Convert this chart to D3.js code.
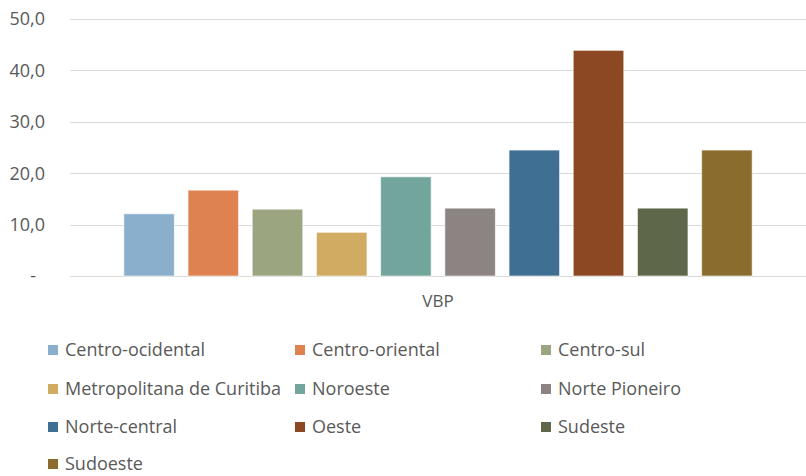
<!DOCTYPE html>
<html>
<head>
<meta charset="utf-8">
<script src="https://cdn.jsdelivr.net/npm/d3@7"></script>
<style>
  body { margin: 0; background: #fff; }
  text { font-family: "Open Sans", sans-serif; fill: #595959; }
</style>
</head>
<body>
<div class="canvas"></div>
<script>
// data
const category = 'VBP'
const regions = ['Centro-ocidental', 'Centro-oriental', 'Centro-sul', 'Metropolitana de Curitiba',
    'Noroeste', 'Norte Pioneiro', 'Norte-central', 'Oeste', 'Sudeste', 'Sudoeste']
const values = [12.1, 16.7, 13.0, 8.5, 19.3, 13.2, 24.5, 43.9, 13.2, 24.5]
const colours = ['#8AAFCD', '#DE8250', '#9BA57F', '#D2AB62', '#72A59B',
    '#8B8483', '#3F7094', '#8B4823', '#5E6749', '#8A6D2E']
const yTicks = [0, 10, 20, 30, 40, 50]

const dims = {width: 806, height: 476}
const plot = {left: 70, right: 806, top: 19, bottom: 276}

const svg = d3.select('.canvas')
    .append('svg')
    .attr('width', dims.width)
    .attr('height', dims.height)

const y = d3.scaleLinear()
    .domain([0, 50])
    .range([plot.bottom, plot.top])

const x0 = d3.scaleBand()
    .domain([category])
    .range([plot.left, plot.right])
    .paddingOuter(0.0732)

const x1 = d3.scaleBand()
    .domain(regions)
    .range([0, x0.bandwidth()])
    .paddingInner(0.213)
    .paddingOuter(0.1065)

const colour = d3.scaleOrdinal().domain(regions).range(colours)

//gridlines
svg.append('g')
    .selectAll('line')
    .data(yTicks)
    .enter().append('line')
    .attr('x1', plot.left)
    .attr('x2', plot.right)
    .attr('y1', d => Math.round(y(d)) + 0.5)
    .attr('y2', d => Math.round(y(d)) + 0.5)
    .attr('stroke', '#d9d9d9')
    .attr('stroke-width', 1)

//y labels
const fmt = d => d === 0 ? '-' : d3.format('.1f')(d).replace('.', ',')
svg.append('g')
    .selectAll('text')
    .data(yTicks)
    .enter().append('text')
    .attr('x', d => d === 0 ? 36 : 45)
    .attr('y', d => y(d))
    .attr('dy', '0.35em')
    .attr('text-anchor', 'end')
    .attr('font-size', 18)
    .text(fmt)

//bars
const group = svg.append('g')
    .attr('transform', `translate(${x0(category)}, 0)`)

group.selectAll('rect')
    .data(regions.map((r, i) => ({name: r, value: values[i]})))
    .enter().append('rect')
    .attr('x', d => x1(d.name))
    .attr('y', d => y(d.value))
    .attr('width', x1.bandwidth())
    .attr('height', d => y(0) - y(d.value))
    .attr('fill', d => colour(d.name))
    .attr('stroke', '#fff')
    .attr('stroke-opacity', 0.6)
    .attr('stroke-width', 1)

//category label
svg.append('text')
    .attr('x', x0(category) + x0.bandwidth() / 2)
    .attr('y', 301)
    .attr('dy', '0.35em')
    .attr('text-anchor', 'middle')
    .attr('font-size', 17)
    .text(category)

//legend, 3 columns
const legendCols = [48, 295, 541]
const legendRows = [350, 389, 427, 464]
const legend = svg.append('g')
    .selectAll('g')
    .data(regions)
    .enter().append('g')
    .attr('transform', (d, i) => `translate(${legendCols[i % 3]}, ${legendRows[Math.floor(i / 3)]})`)

legend.append('rect')
    .attr('x', 0)
    .attr('y', -5)
    .attr('width', 10)
    .attr('height', 10)
    .attr('fill', d => colour(d))

legend.append('text')
    .attr('x', 17)
    .attr('y', 0)
    .attr('dy', '0.35em')
    .attr('font-size', 18)
    .text(d => d)
</script>
</body>
</html>
